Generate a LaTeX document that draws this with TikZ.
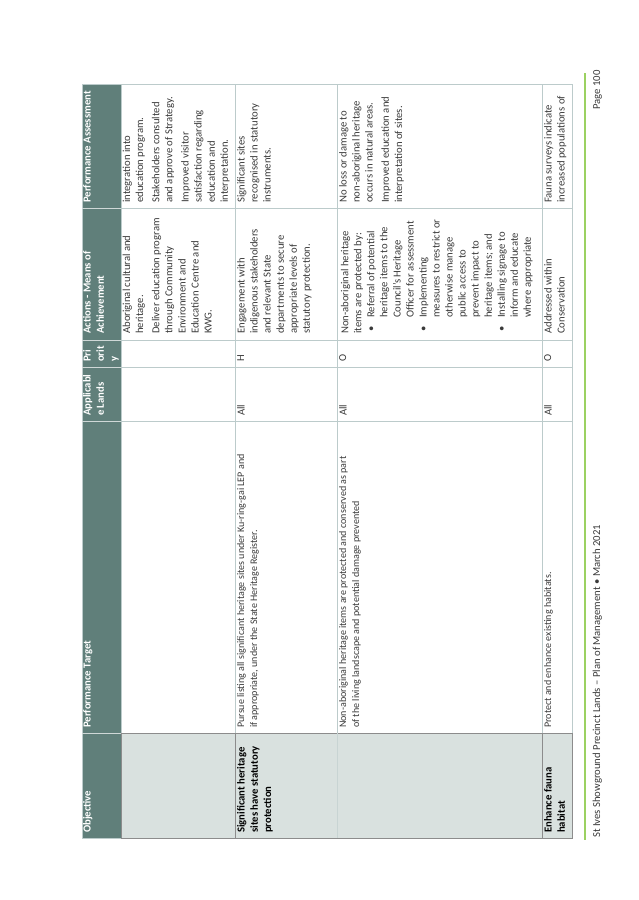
\documentclass[tikz,border=0pt]{standalone}
\usepackage{fontspec}
\setmainfont{Carlito}
\usepackage{array}

\definecolor{headfill}{HTML}{607F7A}
\definecolor{objfill}{HTML}{D9E1DF}
\definecolor{gridline}{HTML}{BCCBCB}
\definecolor{objline}{HTML}{8C8C8C}
\definecolor{footgreen}{HTML}{9BD161}
\definecolor{bodytext}{HTML}{3A3A3A}

\begin{document}
\begin{tikzpicture}[x=0.9356pt,y=-0.9356pt,
    cell/.style={rotate=90,anchor=north west,inner sep=0pt,align=left,
      text=bodytext,font=\fontsize{10}{12.2}\selectfont},
    targcell/.style={cell,font=\fontsize{9.4}{12.2}\selectfont},
    headcell/.style={cell,text=white,font=\fontsize{10}{12.4}\selectfont\bfseries},
    objcell/.style={cell,text=black,font=\fontsize{10}{12.4}\selectfont\bfseries},
    foot/.style={rotate=90,anchor=base west,inner sep=0pt,text=bodytext,
      font=\fontsize{10}{12}\selectfont}]
    \useasboundingbox (0,0) rectangle (638,900);

    % Fills
    \fill[headfill] (82,84) rectangle (121,838);
    \fill[objfill] (121,733) rectangle (572,838);

    % Grid
    \draw[gridline,line width=0.6pt] (82,84) rectangle (572,838);
    \foreach \y in {208,340,367,421,733}
        \draw[gridline,line width=0.6pt] (121,\y) -- (572,\y);
    \foreach \x in {121,235.5,337,542.5}
        \draw[gridline,line width=0.6pt] (\x,84) -- (\x,838);
    \foreach \y in {208,340,367,421,733}
        \draw[white!70!headfill,line width=0.6pt] (82,\y) -- (121,\y);

    % Objective boxes
    \draw[objline,line width=0.8pt] (121,733) rectangle (235.5,838);
    \draw[objline,line width=0.8pt] (235.5,733) rectangle (542.5,838);
    \draw[objline,line width=0.8pt] (542.5,733) rectangle (572,838);
    \draw[gridline!60!objfill,line width=0.6pt] (337,733) -- (337,838);

    % Header
    \node[headcell] (hobj) at (83,833) {Objective};
    \node[headcell] (htarget) at (83,728) {Performance Target};
    \node[headcell] (hlands) at (83,416) {Applicabl\\e Lands};
    \node[headcell] (hprio) at (83,362) {Pri\\orit\\y};
    \node[headcell] (hact) at (83,334) {Actions - Means of\\Achievement};
    \node[headcell] (hassess) at (83,203) {Performance Assessment};

    % Row 1
    \node[cell] (acta) at (122.5,334) {Aboriginal cultural and\\heritage.\\[3pt]
        Deliver education program\\through Community\\Environment and\\Education Centre and\\KWG.};
    \node[cell] (assa) at (122.5,203) {integration into\\education program.\\[3pt]
        Stakeholders consulted\\and approve of Strategy.\\[3pt]
        Improved visitor\\satisfaction regarding\\education and\\interpretation.};

    % Row 2
    \node[objcell] (objb) at (237,833) {Significant heritage\\sites have statutory\\protection};
    \node[targcell] (targb) at (237,728) {Pursue listing all significant heritage sites under Ku-ring-gai LEP and\\
        if appropriate, under the State Heritage Register.};
    \node[cell] (landb) at (237,416) {All};
    \node[cell] (priob) at (237,362) {H};
    \node[cell] (actb) at (237,334) {Engagement with\\indigenous stakeholders\\and relevant State\\departments to secure\\appropriate levels of\\statutory protection.};
    \node[cell] (assb) at (237,203) {Significant sites\\recognised in statutory\\instruments.};

    % Row 3
    \node[targcell] (targc) at (339,728) {Non-aboriginal heritage items are protected and conserved as part\\
        of the living landscape and potential damage prevented};
    \node[cell] (landc) at (339,416) {All};
    \node[cell] (prioc) at (339,362) {O};
    \node[cell] (actc) at (339,334) {\begin{tabular}[t]{@{\hspace{2pt}}p{13pt}@{}l@{}}
        \multicolumn{2}{@{}l@{}}{Non-aboriginal heritage}\\
        \multicolumn{2}{@{}l@{}}{items are protected by:}\\
        \textbullet & Referral of potential\\
         & heritage items to the\\
         & Council’s Heritage\\
         & Officer for assessment\\
        \textbullet & Implementing\\
         & measures to restrict or\\
         & otherwise manage\\
         & public access to\\
         & prevent impact to\\
         & heritage items; and\\
        \textbullet & Installing signage to\\
         & inform and educate\\
         & where appropriate
        \end{tabular}};
    \node[cell] (assc) at (339,203) {No loss or damage to\\non-aboriginal heritage\\occurs in natural areas.\\[3pt]
        Improved education and\\interpretation of sites.};

    % Row 4
    \node[objcell] (objd) at (544,833) {Enhance fauna\\habitat};
    \node[targcell] (targd) at (544,728) {Protect and enhance existing habitats.};
    \node[cell] (landd) at (544,416) {All};
    \node[cell] (priod) at (544,362) {O};
    \node[cell] (actd) at (544,334) {Addressed within\\Conservation};
    \node[cell] (assd) at (544,203) {Fauna surveys indicate\\increased populations of};

    % Footer
    \draw[footgreen,line width=2pt] (585,73) -- (585,840);
    \node[foot] (footl) at (600,838) {St Ives Showground Precinct Lands – Plan of Management • March 2021};
    \node[foot] (page) at (600,110) {Page 100};
\end{tikzpicture}
\end{document}
